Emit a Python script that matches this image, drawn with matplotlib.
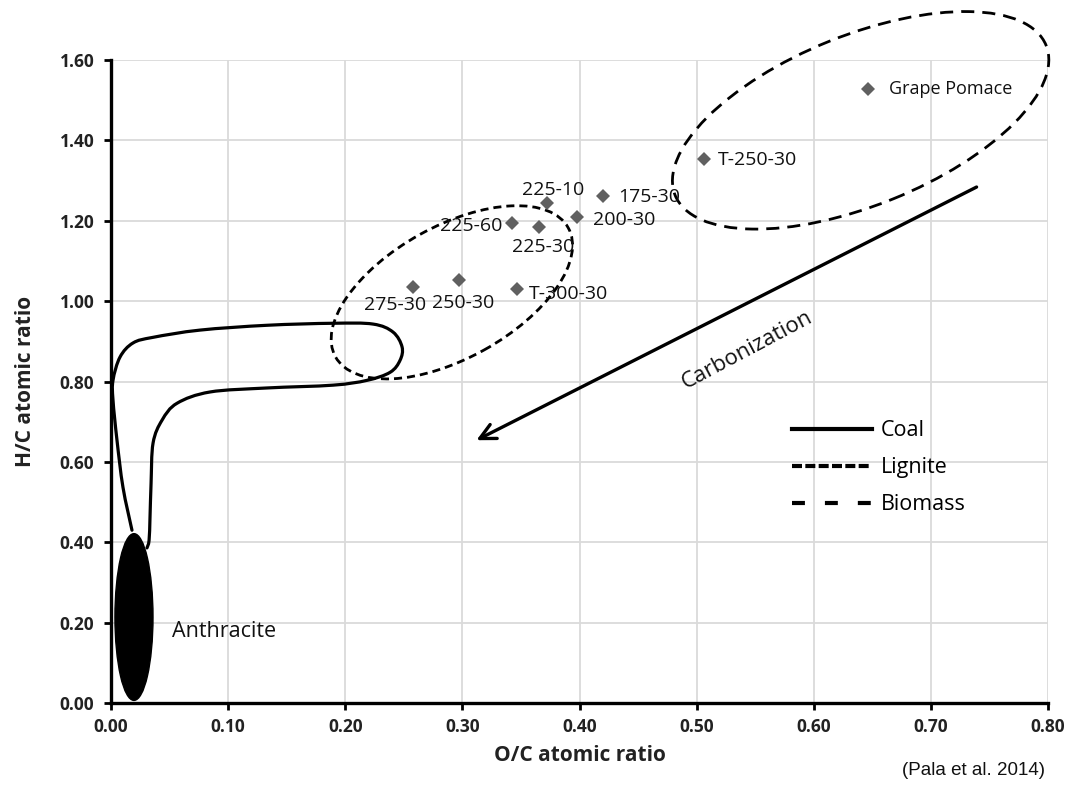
import numpy as np
import matplotlib
matplotlib.use("Agg")
import matplotlib.pyplot as plt
from matplotlib.patches import Ellipse, PathPatch
from matplotlib.path import Path
from matplotlib.lines import Line2D
from matplotlib.transforms import Affine2D

plt.rcParams['font.family'] = ['Open Sans', 'DejaVu Sans']

# samples (O/C, H/C)
labels = ['Grape Pomace', 'T-250-30', '175-30', '225-10', '200-30',
          '225-60', '225-30', '275-30', '250-30', 'T-300-30']
oc = [0.646, 0.506, 0.420, 0.372, 0.398, 0.342, 0.365, 0.258, 0.297, 0.347]
hc = [1.527, 1.353, 1.261, 1.244, 1.209, 1.194, 1.184, 1.035, 1.052, 1.030]

# coal band outline
coal_x = [0.0179, 0.0102, 0.0051, 0.0017, 0.0017, 0.0077, 0.0188, 0.0359,
          0.0760, 0.1332, 0.1896, 0.2237, 0.2408, 0.2485, 0.2468, 0.2383,
          0.2186, 0.1896, 0.1332, 0.0845, 0.0564, 0.0436, 0.0359, 0.0342,
          0.0333, 0.0325, 0.0307]
coal_y = [0.430, 0.537, 0.654, 0.754, 0.803, 0.861, 0.896, 0.910,
          0.928, 0.940, 0.945, 0.943, 0.923, 0.886, 0.853, 0.823,
          0.803, 0.791, 0.784, 0.774, 0.746, 0.704, 0.647, 0.547,
          0.463, 0.405, 0.386]

xticks = [0.0, 0.1, 0.2, 0.3, 0.4, 0.5, 0.6, 0.7, 0.8]
yticks = [0.0, 0.2, 0.4, 0.6, 0.8, 1.0, 1.2, 1.4, 1.6]

fig = plt.figure(figsize=(10.82, 7.87), dpi=100)
ax = fig.add_axes([0.1026, 0.1067, 0.866, 0.817])
ax.set_xlim(0, 0.8)
ax.set_ylim(0, 1.6)
ax.set_xticks(xticks)
ax.set_yticks(yticks)
ax.set_xticklabels(['%.2f' % v for v in xticks])
ax.set_yticklabels(['%.2f' % v for v in yticks])
for t in ax.get_xticklabels() + ax.get_yticklabels():
    t.set_fontweight('bold')
    t.set_fontsize(12.5)
    t.set_color('#222222')
ax.tick_params(axis='both', direction='out', length=5, width=2, color='black')
ax.tick_params(axis='x', pad=6)
ax.tick_params(axis='y', pad=7)
ax.grid(True, color='#dadada', lw=1.3, zorder=0)
ax.set_axisbelow(True)
for s in ['top', 'right']:
    ax.spines[s].set_visible(False)
for s in ['left', 'bottom']:
    ax.spines[s].set_linewidth(2.4)
    ax.spines[s].set_zorder(5)

ax.set_xlabel('O/C atomic ratio', fontsize=15, fontweight='bold', color='#222222')
ax.set_ylabel('H/C atomic ratio', fontsize=15, fontweight='bold', color='#222222')
ax.xaxis.set_label_coords(0.5, -0.065)
ax.yaxis.set_label_coords(-0.08, 0.5)

# space where both axes have the same pixel scale (for tilted ellipses)
bb = ax.get_position()
r = (bb.height * 7.87 / 1.6) / (bb.width * 10.82 / 0.8)
sq = Affine2D().scale(1, 1 / r) + ax.transData

# lignite (short dashes) and biomass (long dashes) regions
lig = Ellipse((0.291, 1.022 * r), 2 * 0.1136, 2 * 0.0564, angle=29,
              transform=sq, fill=False, color='black', lw=2,
              ls=(0, (2.9, 1.8)), zorder=3, clip_on=False)
bio = Ellipse((0.640, 1.450 * r), 2 * 0.1708, 2 * 0.0726, angle=22,
              transform=sq, fill=False, color='black', lw=2,
              ls=(0, (4.7, 2.9)), zorder=3, clip_on=False)
ax.add_patch(lig)
ax.add_patch(bio)

# coal band, smooth curve through the read points
pts = np.column_stack([coal_x, coal_y])
verts = [pts[0]]
codes = [Path.MOVETO]
n = len(pts)
for i in range(n - 1):
    p0 = pts[max(i - 1, 0)]
    p1 = pts[i]
    p2 = pts[i + 1]
    p3 = pts[min(i + 2, n - 1)]
    verts += [p1 + (p2 - p0) / 6, p2 - (p3 - p1) / 6, p2]
    codes += [Path.CURVE4] * 3
ax.add_patch(PathPatch(Path(verts, codes), fill=False, lw=2.3,
                       color='black', capstyle='round', zorder=3))

# anthracite
ax.add_patch(Ellipse((0.0196, 0.214), 0.0325, 0.415, color='black', zorder=4))
ax.text(0.052, 0.177, 'Anthracite', fontsize=15.5, va='center', ha='left',
        color='#111111')

# carbonization arrow
ax.annotate('', xy=(0.312, 0.654), xytext=(0.739, 1.284),
            arrowprops=dict(arrowstyle='->', lw=2.4, color='black',
                            mutation_scale=28, shrinkA=0, shrinkB=0),
            zorder=3)
ax.text(0.543, 0.878, 'Carbonization', fontsize=16, rotation=28,
        rotation_mode='anchor', ha='center', va='center', color='#111111')

# samples
ax.plot(oc, hc, ls='none', marker='D', ms=7.5, color='#606060',
        markeredgewidth=0, zorder=6)
offs = {'Grape Pomace': (21, 0, 'left'), 'T-250-30': (14, -1, 'left'),
        '175-30': (15, -1, 'left'), '225-10': (6, 13, 'center'),
        '200-30': (16, -3, 'left'), '225-60': (-9, -3, 'right'),
        '225-30': (5, -20, 'center'), '275-30': (-18, -18, 'center'),
        '250-30': (4, -23, 'center'), 'T-300-30': (11, -5, 'left')}
for lab, x, y in zip(labels, oc, hc):
    dx, dy, ha = offs[lab]
    fs = 13 if lab == 'Grape Pomace' else 14
    ax.annotate(lab, (x, y), xytext=(dx, dy), textcoords='offset pixels',
                ha=ha, va='center', fontsize=fs, color='#111111', zorder=7)

# legend
handles = [Line2D([], [], color='black', lw=3, ls='-'),
           Line2D([], [], color='black', lw=3, ls=(0, (2.4, 0.8))),
           Line2D([], [], color='black', lw=3, ls=(0, (3.1, 4.8)))]
leg = ax.legend(handles, ['Coal', 'Lignite', 'Biomass'], loc='upper left',
                bbox_to_anchor=(0.727, 0.44), frameon=False, fontsize=15.5,
                handlelength=3.7, handletextpad=0.4, labelspacing=0.75,
                borderpad=0, borderaxespad=0)

fig.text(0.834, 0.021, '(Pala et al. 2014)', fontsize=13.5,
         family=['Liberation Sans', 'DejaVu Sans'],
         ha='left', va='center', color='#111111')

fig.savefig('out.png', dpi=100)
